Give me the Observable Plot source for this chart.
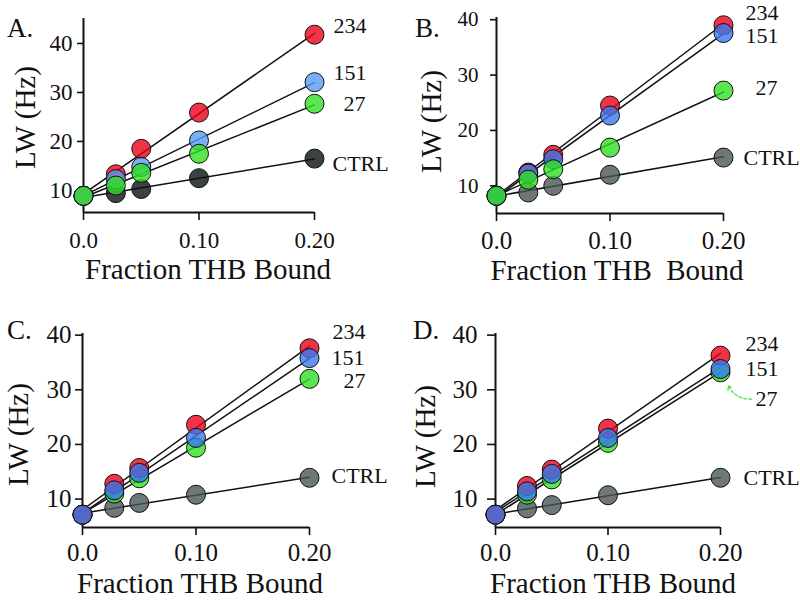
<!DOCTYPE html>
<html><head><meta charset="utf-8">
<script src="https://cdn.jsdelivr.net/npm/d3@7"></script>
<script src="https://cdn.jsdelivr.net/npm/@observablehq/plot@0.6"></script>
<style>
body{margin:0;background:#fff;}
#chart{position:relative;width:800px;height:600px;font-family:"Liberation Serif","Times New Roman",serif;color:#111;}
.panel{position:absolute;width:400px;height:300px;}
.panel svg{overflow:visible;}
.letter{position:absolute;font-size:27px;line-height:27px;color:#111;}
</style></head><body><div id="chart"></div>
<script>
// ---- data ----
const fraction = [0, 0.028, 0.05, 0.1, 0.2];
const seriesNames = ["CTRL", "234", "151", "27"];
const yTicks = [10, 20, 30, 40];
const xTicks = [0, 0.1, 0.2];
const xTickLabels = ["0.0", "0.10", "0.20"];
const panelLetters = ["A.", "B.", "C.", "D."];
const xAxisTitles = ["Fraction THB Bound", "Fraction THB  Bound", "Fraction THB Bound", "Fraction THB Bound"];
const yAxisTitle = "LW (Hz)";

const lwA_CTRL = [8.9, 9.45, 10.3, 12.5, 16.5];
const lwA_234  = [8.9, 13.3, 18.5, 25.9, 41.8];
const lwA_151  = [8.9, 12.3, 14.8, 20.2, 32.1];
const lwA_27   = [8.9, 11.0, 13.6, 17.5, 27.7];

const lwB_CTRL = [8.2, 8.8, 10.0, 12.0, 15.1];
const lwB_234  = [8.2, 12.4, 15.6, 24.5, 39.0];
const lwB_151  = [8.2, 12.2, 14.8, 22.7, 37.6];
const lwB_27   = [8.2, 11.1, 13.0, 16.9, 27.2];

const lwC_CTRL = [7.15, 8.4, 9.3, 10.8, 13.9];
const lwC_234  = [7.15, 12.8, 15.7, 23.6, 37.6];
const lwC_151  = [7.15, 11.6, 14.8, 21.2, 35.8];
const lwC_27   = [7.15, 11.0, 13.8, 19.4, 32.0];

const lwD_CTRL = [7.15, 8.3, 8.9, 10.7, 13.9];
const lwD_234  = [7.15, 12.4, 15.4, 22.9, 36.25];
const lwD_151  = [7.15, 11.4, 14.6, 21.2, 33.8];
const lwD_27   = [7.15, 10.8, 13.6, 20.3, 33.2];

// ---- panel layout / style ----
const panels = [
  {id:"pA", left:0, top:0, data:{CTRL:lwA_CTRL,"234":lwA_234,"151":lwA_151,"27":lwA_27},
   margin:{t:18,r:86,b:88,l:83}, yDomain:[5.5,45.1],
   colors:{CTRL:"#0b1315","234":"#ec0018","151":"#569bf2","27":"#31e024"},
   order:["CTRL","234","151","27"], yTickSize:6, yTickPad:5, yFont:23, xFont:23, xTickPad:11,
   lab:{"234":[19,-9],"151":[19,-9],"27":[29,0],CTRL:[18,5]},
   yTitleDx:-58, yTitleDy:2, xTitleDx:9, xTitleDy:57, letter:[7,15]},
  {id:"pB", left:400, top:0, data:{CTRL:lwB_CTRL,"234":lwB_234,"151":lwB_151,"27":lwB_27},
   margin:{t:17,r:77,b:87,l:96}, yDomain:[5.0,40.4],
   colors:{CTRL:"#4a5656","234":"#ec0018","151":"#3a78f0","27":"#31e024"},
   order:["CTRL","234","151","27"], yTickSize:6, yTickPad:12, yFont:21, xFont:25, xTickPad:10,
   lab:{"234":[22,-12],"151":[22,3],"27":[32,-3],CTRL:[20,0]},
   yTitleDx:-65, yTitleDy:6, xTitleDx:7, xTitleDy:57, letter:[15,15]},
  {id:"pC", left:0, top:300, data:{CTRL:lwC_CTRL,"234":lwC_234,"151":lwC_151,"27":lwC_27},
   margin:{t:33,r:91,b:73,l:82}, yDomain:[4.8,40.3],
   colors:{CTRL:"#4a5656","234":"#ec0018","151":"#3a78f0","27":"#31e024"},
   order:["CTRL","27","234","151"], yTickSize:7, yTickPad:4, yFont:25, xFont:25, xTickPad:8,
   lab:{"234":[23,-16],"151":[22,0],"27":[34,2],CTRL:[22,-2]},
   yTitleDx:-64, yTitleDy:4, xTitleDx:4, xTitleDy:56, letter:[7,17]},
  {id:"pD", left:400, top:300, data:{CTRL:lwD_CTRL,"234":lwD_234,"151":lwD_151,"27":lwD_27},
   margin:{t:33,r:80,b:73,l:95}, yDomain:[4.8,40.3],
   colors:{CTRL:"#4a5656","234":"#ec0018","151":"#3a78f0","27":"#31e024"},
   order:["CTRL","27","234","151"], yTickSize:8, yTickPad:10, yFont:25, xFont:25, xTickPad:8,
   lab:{"234":[25,-12],"151":[25,0],"27":[35,27],CTRL:[23,0]},
   yTitleDx:-70, yTitleDy:6, xTitleDx:5, xTitleDy:56, letter:[13,17], arrow:true}
];

const chart = document.getElementById("chart");

panels.forEach((p, pi) => {
  const rows = p.order.flatMap(s => fraction.map((f, i) => ({x: f, lw: p.data[s][i], series: s})));
  const last = fraction[fraction.length - 1];
  const marks = [
    Plot.axisX({ticks: xTicks, tickFormat: d => xTickLabels[xTicks.indexOf(d)], tickSize: 8,
      tickPadding: p.xTickPad, fontSize: p.xFont, strokeWidth: 1.6, label: null}),
    Plot.axisY({ticks: yTicks, tickSize: p.yTickSize, tickPadding: p.yTickPad, fontSize: p.yFont,
      strokeWidth: 1.6, label: null}),
    Plot.ruleX([0], {strokeWidth: 2, stroke: "#111"}),
    Plot.ruleY([p.yDomain[0]], {strokeWidth: 2, stroke: "#111"}),
    ...p.order.map(s => Plot.linearRegressionY(rows.filter(r => r.series === s),
      {x: "x", y: "lw", stroke: "#111", strokeWidth: 1.5, ci: 0})),
    ...p.order.map(s => Plot.dot(rows.filter(r => r.series === s),
      {x: "x", y: "lw", r: 9.5, fill: p.colors[s], fillOpacity: 0.8, stroke: "#111", strokeWidth: 1})),
    ...seriesNames.map(s => Plot.text([{x: last, lw: p.data[s][fraction.length - 1]}],
      {x: "x", y: "lw", text: () => s, dx: p.lab[s][0], dy: p.lab[s][1], textAnchor: "start",
       fontSize: 22, fill: "#111"})),
    Plot.text([yAxisTitle], {text: d => d, frameAnchor: "left", rotate: -90, textAnchor: "middle",
      lineAnchor: "middle", dx: p.yTitleDx, dy: p.yTitleDy, fontSize: 29, fill: "#111"}),
    Plot.text([xAxisTitles[pi]], {text: d => d, frameAnchor: "bottom", textAnchor: "middle",
      lineAnchor: "middle", dx: p.xTitleDx, dy: p.xTitleDy, fontSize: 29, fill: "#111",
      style: "white-space:pre"})
  ];
  if (p.arrow) {
    const v = p.data["27"][fraction.length - 1];
    marks.push(Plot.arrow([{x1: last + 0.0276, y1: v - 4.9, x2: last + 0.007, y2: v - 2.45}],
      {x1: "x1", y1: "y1", x2: "x2", y2: "y2", stroke: "#44dd44", strokeWidth: 1.2,
       strokeDasharray: "3,2", bend: 35, headLength: 6}));
  }
  const svg = Plot.plot({
    width: 400, height: 300,
    marginTop: p.margin.t, marginRight: p.margin.r, marginBottom: p.margin.b, marginLeft: p.margin.l,
    style: {fontFamily: '"Liberation Serif","Times New Roman",serif', fontSize: "23px",
            background: "transparent", overflow: "visible", color: "#111"},
    x: {domain: [0, 0.2]},
    y: {domain: p.yDomain},
    marks
  });
  const div = document.createElement("div");
  div.className = "panel " + p.id;
  div.style.left = p.left + "px";
  div.style.top = p.top + "px";
  div.appendChild(svg);
  chart.appendChild(div);
  const L = document.createElement("div");
  L.className = "letter";
  L.textContent = panelLetters[pi];
  L.style.left = (p.left + p.letter[0]) + "px";
  L.style.top = (p.top + p.letter[1]) + "px";
  chart.appendChild(L);
});
</script></body></html>
